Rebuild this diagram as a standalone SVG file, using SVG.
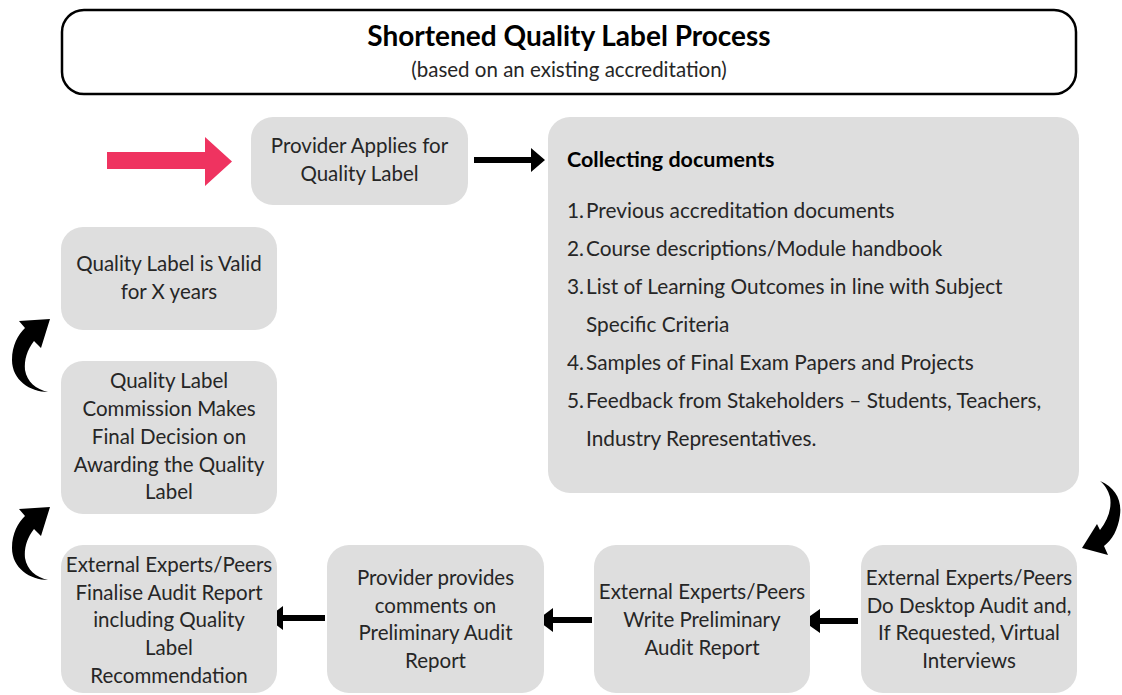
<svg xmlns="http://www.w3.org/2000/svg" xmlns:xlink="http://www.w3.org/1999/xlink" width="1122" height="695" viewBox="0 0 1122 695">
  <style>
    .box { fill: #dedede; }
    .t { font-family: Lato, "Open Sans", "Liberation Sans", sans-serif; font-size: 20.5px; fill: #262626; text-anchor: middle; }
    .l { font-family: Lato, "Open Sans", "Liberation Sans", sans-serif; font-size: 20.8px; fill: #262626; }
    .b { font-weight: bold; fill: #000; font-size: 21.5px; }
    .arrow { fill: #000; }
  </style>
  <defs>
    <!-- curved "loop back" arrow, bottom tail curving up to a head -->
    <path id="curl" d="M48,392 C30,392 12,380 12,360 C12,345 18,335 25,328 L19,321 L50,319 L41,348 L34,341 C27,350 24,360 25,370 C27,382 36,389 48,392 Z"/>
  </defs>
  <rect width="1122" height="695" fill="#ffffff"/>

  <g id="header">
    <rect x="62" y="10" width="1014" height="84" rx="22" fill="#fff" stroke="#000" stroke-width="2.5"/>
    <text x="569" y="46" font-family="Lato, 'Open Sans', 'Liberation Sans', sans-serif" font-size="28" font-weight="bold" text-anchor="middle" fill="#000">Shortened Quality Label Process</text>
    <text x="569" y="77" class="t">(based on an existing accreditation)</text>
  </g>

  <g id="connectors">
    <!-- start arrow -->
    <polygon points="107,152 205,152 205,137 232,161.5 205,186 205,169 107,169" fill="#ef3360"/>
    <polygon class="arrow" points="474,157 531,157 531,148 545,160 531,172 531,163 474,163"/>
    <polygon class="arrow" points="858,618 820,618 820,609 803,621 820,633 820,624 858,624"/>
    <polygon class="arrow" points="592,617 553,617 553,608 537,620 553,632 553,623 592,623"/>
    <polygon class="arrow" points="325,615 283,615 283,606 267,618 283,630 283,621 325,621"/>
    <use xlink:href="#curl" class="arrow"/>
    <use xlink:href="#curl" class="arrow" transform="translate(0,188)"/>
    <path class="arrow" d="M1100,481 C1115,487 1122,500 1120,515 C1118,530 1112,540 1104,546 L1108,555 L1082,548 L1097,524 L1100,530 C1108,520 1112,508 1110,497 C1108,490 1105,485 1100,481 Z"/>
  </g>

  <g id="apply">
    <rect class="box" x="251" y="117" width="217" height="88" rx="22"/>
    <text class="t" x="359.5" y="153">Provider Applies for</text>
    <text class="t" x="359.5" y="181">Quality Label</text>
  </g>

  <g id="documents">
    <rect class="box" x="548" y="117" width="531" height="376" rx="22"/>
    <text class="l b" x="567" y="167">Collecting documents</text>
    <text class="l" x="567" y="218">1.</text><text class="l" x="586" y="218">Previous accreditation documents</text>
    <text class="l" x="567" y="256">2.</text><text class="l" x="586" y="256">Course descriptions/Module handbook</text>
    <text class="l" x="567" y="294">3.</text><text class="l" x="586" y="294">List of Learning Outcomes in line with Subject</text>
    <text class="l" x="586" y="332">Specific Criteria</text>
    <text class="l" x="567" y="370">4.</text><text class="l" x="586" y="370">Samples of Final Exam Papers and Projects</text>
    <text class="l" x="567" y="408">5.</text><text class="l" x="586" y="408">Feedback from Stakeholders – Students, Teachers,</text>
    <text class="l" x="586" y="446">Industry Representatives.</text>
  </g>

  <g id="valid">
    <rect class="box" x="61" y="227" width="216" height="103" rx="22"/>
    <text class="t" x="169" y="271">Quality Label is Valid</text>
    <text class="t" x="169" y="299">for X years</text>
  </g>

  <g id="decision">
    <rect class="box" x="61" y="361" width="216" height="153" rx="22"/>
    <text class="t" x="169" y="388">Quality Label</text>
    <text class="t" x="169" y="416">Commission Makes</text>
    <text class="t" x="169" y="444">Final Decision on</text>
    <text class="t" x="169" y="472">Awarding the Quality</text>
    <text class="t" x="169" y="499">Label</text>
  </g>

  <g id="finalise">
    <rect class="box" x="61" y="545" width="216" height="148" rx="22"/>
    <text class="t" x="169" y="572">External Experts/Peers</text>
    <text class="t" x="169" y="600">Finalise Audit Report</text>
    <text class="t" x="169" y="627">including Quality</text>
    <text class="t" x="169" y="655">Label</text>
    <text class="t" x="169" y="683">Recommendation</text>
  </g>

  <g id="comments">
    <rect class="box" x="327" y="545" width="217" height="148" rx="22"/>
    <text class="t" x="435.5" y="585">Provider provides</text>
    <text class="t" x="435.5" y="613">comments on</text>
    <text class="t" x="435.5" y="640">Preliminary Audit</text>
    <text class="t" x="435.5" y="668">Report</text>
  </g>

  <g id="preliminary">
    <rect class="box" x="594" y="545" width="216" height="148" rx="22"/>
    <text class="t" x="702" y="599">External Experts/Peers</text>
    <text class="t" x="702" y="627">Write Preliminary</text>
    <text class="t" x="702" y="655">Audit Report</text>
  </g>

  <g id="audit">
    <rect class="box" x="861" y="545" width="216" height="148" rx="22"/>
    <text class="t" x="969" y="585">External Experts/Peers</text>
    <text class="t" x="969" y="613">Do Desktop Audit and,</text>
    <text class="t" x="969" y="640">If Requested, Virtual</text>
    <text class="t" x="969" y="668">Interviews</text>
  </g>
</svg>
